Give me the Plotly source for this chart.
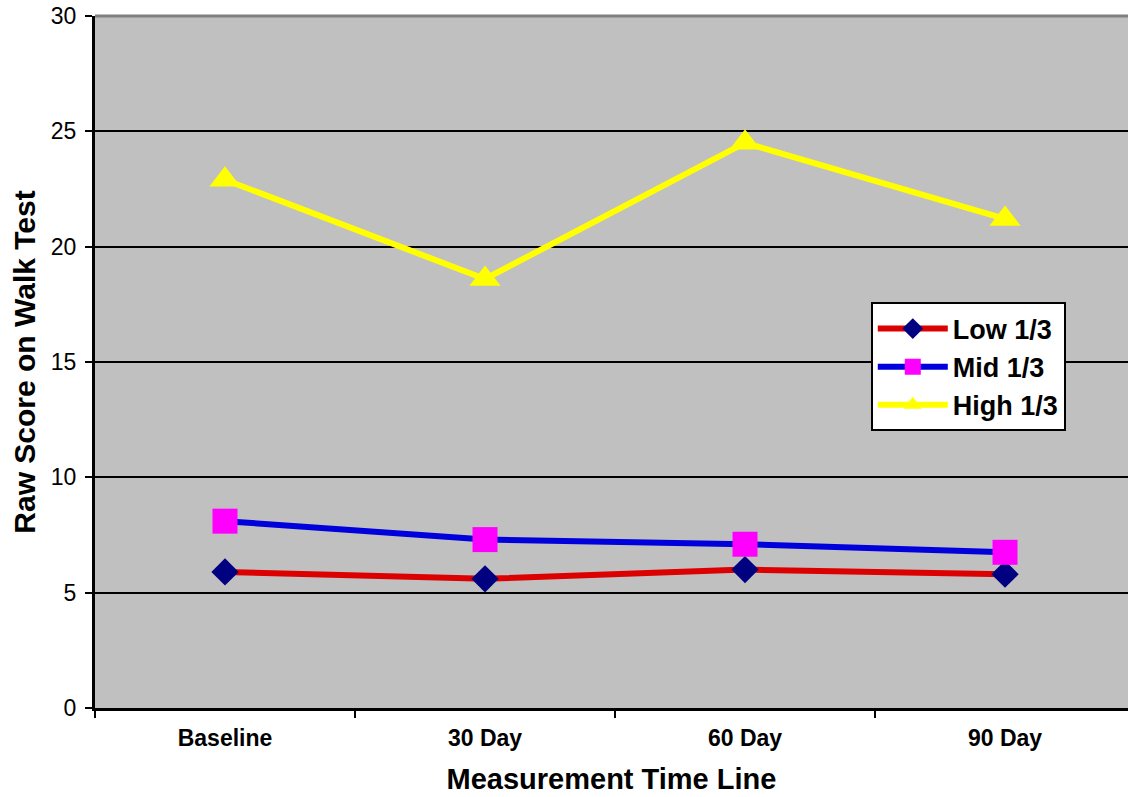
import plotly.graph_objects as go

# Walk test scores by tertile across the measurement time line
time_points = ["Baseline", "30 Day", "60 Day", "90 Day"]
low_third = [5.9, 5.6, 6.0, 5.8]
mid_third = [8.1, 7.3, 7.1, 6.75]
high_third = [22.9, 18.6, 24.5, 21.2]
y_ticks = [0, 5, 10, 15, 20, 25, 30]

FONT = "Arial, Liberation Sans, Helvetica, sans-serif"

fig = go.Figure()

series = [
    ("Low 1/3", low_third, "#DD0000", "diamond", "#000080", 21),
    ("Mid 1/3", mid_third, "#0000DD", "square", "#FF00FF", 25),
    ("High 1/3", high_third, "#FFFF00", "triangle-up", "#FFFF00", 27),
]
for name, vals, line_color, symbol, marker_color, msize in series:
    fig.add_trace(go.Scatter(
        x=time_points, y=vals, name=name, mode="lines+markers",
        legendgroup=name,
        line=dict(color=line_color, width=6),
        marker=dict(symbol=symbol, color=marker_color, size=msize,
                    line=dict(width=0)),
    ))

fig.update_layout(
    width=1128, height=797,
    margin=dict(l=95, r=0, t=16, b=89),
    paper_bgcolor="white",
    plot_bgcolor="#C0C0C0",
    font=dict(family=FONT, color="black"),
    showlegend=True,
    legend=dict(
        x=0.751, y=0.586, xanchor="left", yanchor="top",
        bgcolor="white", bordercolor="black", borderwidth=2,
        font=dict(family=FONT, size=27, color="black", weight="bold"),
        tracegroupgap=0, itemwidth=70,
    ),
    xaxis=dict(
        type="category", range=[-0.5, 3.473],
        tickson="boundaries", ticks="outside", ticklen=7, tickwidth=2,
        tickcolor="black", showgrid=False, zeroline=False,
        showline=True, linecolor="black", linewidth=3,
        tickfont=dict(family=FONT, size=23, weight="bold"),
        ticklabelstandoff=7,
        title=dict(text="Measurement Time Line", standoff=20,
                   font=dict(family=FONT, size=29, weight="bold")),
    ),
    yaxis=dict(
        range=[0, 30], tickvals=y_ticks, ticks="outside", ticklen=7,
        tickwidth=2, tickcolor="black",
        showgrid=True, gridcolor="black", gridwidth=2, zeroline=False,
        showline=True, linecolor="black", linewidth=3,
        tickfont=dict(family=FONT, size=23),
        ticklabelstandoff=4,
        title=dict(text="Raw Score on Walk Test", standoff=7,
                   font=dict(family=FONT, size=30, weight="bold")),
    ),
)

# grey border along the top of the plot area
fig.add_shape(type="line", xref="paper", yref="paper", x0=0, x1=1, y0=1, y1=1,
              line=dict(color="#808080", width=3), layer="above")

fig.write_html("out.html")
